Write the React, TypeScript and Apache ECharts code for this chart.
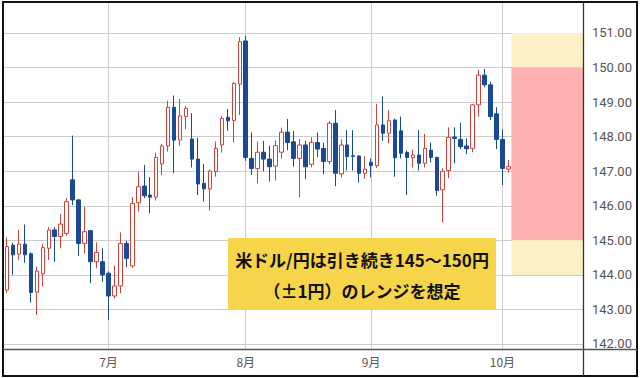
import React, { useEffect, useRef } from "react";
import * as echarts from "echarts";

// Trading-day categories (weekdays), June 6 – Oct 20 (Oct 3 onward are empty future days)
const categories: string[] = [
  "6/6", "6/9", "6/10", "6/11", "6/12", "6/13", "6/16", "6/17", "6/18", "6/19", "6/20",
  "6/23", "6/24", "6/25", "6/26", "6/27", "6/30",
  "7/1", "7/2", "7/3", "7/4", "7/7", "7/8", "7/9", "7/10", "7/11", "7/14", "7/15", "7/16",
  "7/17", "7/18", "7/21", "7/22", "7/23", "7/24", "7/25", "7/28", "7/29", "7/30", "7/31",
  "8/1", "8/4", "8/5", "8/6", "8/7", "8/8", "8/11", "8/12", "8/13", "8/14", "8/15", "8/18",
  "8/19", "8/20", "8/21", "8/22", "8/25", "8/26", "8/27", "8/28", "8/29",
  "9/1", "9/2", "9/3", "9/4", "9/5", "9/8", "9/9", "9/10", "9/11", "9/12", "9/15", "9/16",
  "9/17", "9/18", "9/19", "9/22", "9/23", "9/24", "9/25", "9/26", "9/29", "9/30",
  "10/1", "10/2",
  "10/3", "10/6", "10/7", "10/8", "10/9", "10/10", "10/13", "10/14", "10/15", "10/16", "10/17", "10/20",
];

// OHLC values
const opens: number[] = [
  143.56, 144.86, 144.60, 144.89, 144.61, 143.50, 144.03, 144.77, 145.30, 145.11,
  145.20, 146.75, 146.17, 144.91, 145.28, 144.38, 144.38, 144.05, 143.39, 143.68,
  144.91, 144.26, 146.09, 146.57, 146.31, 146.25, 147.21, 147.73, 148.85, 147.90,
  148.58, 147.93, 147.35, 146.65, 146.49, 146.99, 147.76, 148.56, 148.47, 149.52,
  150.77, 147.37, 147.08, 147.55, 147.35, 147.15, 147.55, 148.13, 147.85, 147.37,
  147.76, 147.20, 147.83, 147.66, 147.28, 148.39, 146.92, 147.76, 147.45, 147.44,
  146.94, 147.26, 147.16, 148.34, 148.10, 148.48, 148.17, 147.54, 147.39, 147.47,
  147.23, 147.61, 147.40, 146.46, 147.02, 147.99, 147.92, 147.73, 147.66, 148.92,
  149.78, 149.50, 148.66, 147.92, 147.06,
];
const closes: number[] = [
  144.82, 144.58, 144.89, 144.58, 143.49, 144.11, 144.79, 145.30, 145.11, 145.47,
  146.12, 146.17, 144.91, 145.25, 144.38, 144.65, 144.00, 143.39, 143.68, 144.91,
  144.48, 146.07, 146.55, 146.29, 146.25, 147.40, 147.73, 148.85, 147.90, 148.60,
  148.82, 147.35, 146.63, 146.49, 147.00, 147.66, 148.53, 148.46, 149.54, 150.75,
  147.40, 147.08, 147.55, 147.35, 147.13, 147.74, 148.13, 147.83, 147.37, 147.76,
  147.13, 147.83, 147.64, 147.28, 148.39, 146.94, 147.76, 147.42, 147.43, 146.94,
  147.06, 147.16, 148.34, 148.10, 148.46, 147.39, 147.52, 147.40, 147.47, 147.23,
  147.66, 147.40, 146.44, 147.00, 147.98, 147.95, 147.71, 147.65, 148.92, 149.78,
  149.50, 148.58, 147.92, 147.08, 147.13,
];
const lows: number[] = [
  143.47, 144.00, 144.43, 144.35, 143.20, 142.84, 143.66, 144.43, 144.38, 144.77,
  145.13, 146.02, 144.55, 144.62, 143.76, 144.19, 143.80, 142.70, 143.32, 143.47,
  144.22, 144.20, 145.83, 146.22, 145.78, 146.15, 146.89, 147.57, 146.94, 147.74,
  148.21, 147.11, 146.31, 146.12, 145.86, 146.84, 147.54, 148.17, 147.83, 148.63,
  147.30, 146.89, 146.65, 146.99, 146.70, 146.73, 147.37, 147.61, 147.13, 146.25,
  146.77, 147.11, 147.40, 146.92, 147.20, 146.57, 146.82, 147.02, 147.02, 146.67,
  146.78, 146.82, 147.09, 147.88, 147.81, 146.84, 147.37, 146.31, 147.11, 147.02,
  147.11, 147.25, 146.29, 145.52, 146.80, 147.23, 147.63, 147.49, 147.55, 148.58,
  149.43, 148.48, 147.64, 146.60, 146.96,
];
const highs: number[] = [
  145.09, 144.93, 145.30, 145.46, 144.65, 144.24, 144.89, 145.38, 145.38, 145.76,
  146.22, 148.03, 146.20, 145.97, 145.30, 144.94, 144.77, 144.10, 144.27, 145.23,
  144.99, 146.25, 146.99, 147.18, 146.83, 147.54, 147.79, 149.04, 149.19, 149.09,
  148.89, 148.68, 147.97, 147.21, 147.05, 147.86, 148.60, 148.80, 149.59, 150.88,
  150.92, 148.12, 147.86, 147.88, 147.74, 147.90, 148.26, 148.51, 148.16, 147.93,
  147.88, 147.98, 148.12, 147.83, 148.45, 148.77, 147.92, 148.19, 148.19, 147.46,
  147.43, 147.37, 148.95, 149.16, 148.77, 148.52, 148.58, 147.60, 147.63, 148.19,
  148.08, 147.83, 147.42, 147.08, 148.27, 148.27, 148.40, 147.95, 148.95, 149.93,
  149.96, 149.59, 148.85, 148.21, 147.33,
];

// Month boundaries on the x axis
const monthStarts: string[] = ["7/1", "8/1", "9/1", "10/1"];
const monthLabels: string[] = ["7月", "8月", "9月", "10月"];

// Forecast range bands (future period)
const bandStart = "10/3";
const bandEnd = "10/20";
const bandLows: number[] = [150, 145, 144];
const bandHighs: number[] = [151, 150, 145];

const noteLines: string[] = ["米ドル/円は引き続き145～150円", "（±1円）のレンジを想定"];

const yMin = 141.855;
const yMax = 151.897;

export default function App() {
  const ref = useRef<HTMLDivElement>(null);

  useEffect(() => {
    if (!ref.current) return;
    const chart = echarts.init(ref.current, null, { renderer: "svg" });

    const candleData = opens.map((o, i) => [o, closes[i], lows[i], highs[i]]);
    const bandColors = ["#fcf1c6", "#ffb1b1", "#fcf1c6"];
    const bandData = bandLows.map((lo, i) => [bandStart, bandEnd, lo, bandHighs[i]]);

    const option: any = {
      animation: false,
      backgroundColor: "#ffffff",
      grid: { left: 4, right: 57, top: 2, bottom: 29 },
      xAxis: {
        type: "category",
        data: categories,
        boundaryGap: true,
        axisLine: { show: false },
        axisTick: { show: false },
        splitLine: { show: false },
        axisLabel: {
          interval: (_idx: number, val: string) => monthStarts.includes(val),
          formatter: (val: string) => {
            const k = monthStarts.indexOf(val);
            return k >= 0 ? monthLabels[k] : "";
          },
          color: "#555555",
          fontSize: 12,
          fontFamily: "Noto Sans CJK JP",
          margin: 6,
        },
      },
      yAxis: {
        type: "value",
        position: "right",
        min: yMin,
        max: yMax,
        splitNumber: 10,
        scale: true,
        axisLine: { show: false },
        axisTick: { show: false },
        splitLine: { show: true, lineStyle: { color: "#cccccc", width: 1 } },
        axisLabel: {
          showMinLabel: false,
          showMaxLabel: false,
          formatter: (v: number) => v.toFixed(2),
          color: "#555555",
          fontSize: 13,
          fontFamily: "Roboto",
          margin: 9,
        },
      },
      series: [
        {
          type: "custom",
          silent: true,
          encode: { x: [0, 1], y: [2, 3] },
          data: bandData,
          renderItem: (params: any, api: any) => {
            const lo = api.coord([api.value(0), api.value(2)]);
            const hi = api.coord([api.value(1), api.value(3)]);
            const bw = api.size([1, 0])[0];
            const x0 = lo[0] - bw / 2;
            const x1 = hi[0] + bw / 2;
            return {
              type: "rect",
              shape: { x: x0, y: hi[1], width: x1 - x0, height: lo[1] - hi[1] },
              style: { fill: bandColors[params.dataIndex] },
            };
          },
          z: 1,
        },
        {
          type: "candlestick",
          data: candleData,
          barWidth: 4,
          itemStyle: {
            color: "#ffffff",
            color0: "#1a4a93",
            borderColor: "#c8453c",
            borderColor0: "#1a4a93",
            borderWidth: 1,
          },
          markLine: {
            silent: true,
            symbol: ["none", "none"],
            label: { show: false },
            lineStyle: { color: "#cccccc", width: 1, type: "solid" },
            data: monthStarts.map((m) => ({ xAxis: m })),
            z: 0,
          },
          z: 3,
        },
      ],
      graphic: [
        {
          type: "rect",
          shape: { x: 3, y: 2, width: 634, height: 374 },
          style: { fill: "none", stroke: "#111111", lineWidth: 2 },
          z: 50,
          silent: true,
        },
        {
          type: "line",
          shape: { x1: 583.5, y1: 2, x2: 583.5, y2: 376 },
          style: { stroke: "#333333", lineWidth: 1.3 },
          z: 50,
          silent: true,
        },
        {
          type: "line",
          shape: { x1: 3, y1: 349.5, x2: 637, y2: 349.5 },
          style: { stroke: "#555555", lineWidth: 1.5 },
          z: 50,
          silent: true,
        },
        {
          type: "group",
          z: 60,
          children: [
            {
              type: "rect",
              shape: { x: 228, y: 238, width: 268, height: 71 },
              style: { fill: "#f6d54a" },
              z: 60,
            },
            {
              type: "text",
              x: 362,
              y: 259,
              style: {
                text: noteLines[0],
                fill: "#111111",
                font: "bold 17px 'Noto Sans CJK JP'",
                align: "center",
                verticalAlign: "middle",
              },
              z: 61,
            },
            {
              type: "text",
              x: 362,
              y: 290,
              style: {
                text: noteLines[1],
                fill: "#111111",
                font: "bold 17px 'Noto Sans CJK JP'",
                align: "center",
                verticalAlign: "middle",
              },
              z: 61,
            },
          ],
        },
      ],
    };

    chart.setOption(option);
    return () => chart.dispose();
  }, []);

  return (
    <div
      ref={ref}
      style={{ position: "fixed", left: 0, top: 0, width: 640, height: 378 }}
    />
  );
}
